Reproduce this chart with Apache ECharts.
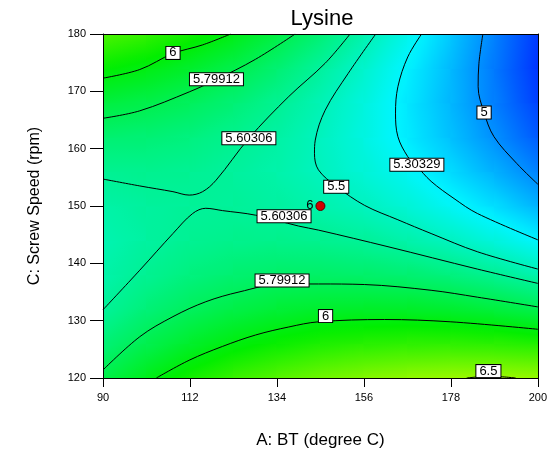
<!DOCTYPE html>
<html>
<head>
<meta charset="utf-8">
<title>Lysine</title>
<script src="https://cdn.jsdelivr.net/npm/echarts@6/dist/echarts.min.js"></script>
<style>
  html, body { margin: 0; padding: 0; background: #fff; }
  #chart { width: 550px; height: 460px; }
</style>
</head>
<body>
<div id="chart"></div>
<script>
// response surface (A = BT, C = screw speed)
const aGrid = [90, 101, 112, 123, 134, 145, 156, 167, 178, 189, 200]
const cGrid = [120, 126, 132, 138, 144, 150, 156, 162, 168, 174, 180]
// one row per cGrid value, one column per aGrid value
const lysineGrid = [
  [5.83, 5.97, 6.10, 6.21, 6.30, 6.37, 6.43, 6.47, 6.50, 6.50, 6.49],
  [5.70, 5.82, 5.92, 6.01, 6.07, 6.13, 6.16, 6.18, 6.18, 6.17, 6.14],
  [5.60, 5.70, 5.78, 5.84, 5.89, 5.92, 5.93, 5.93, 5.91, 5.87, 5.82],
  [5.55, 5.62, 5.68, 5.72, 5.75, 5.75, 5.74, 5.72, 5.68, 5.62, 5.54],
  [5.53, 5.58, 5.62, 5.64, 5.64, 5.63, 5.60, 5.55, 5.48, 5.40, 5.30],
  [5.56, 5.59, 5.60, 5.60, 5.58, 5.54, 5.49, 5.42, 5.33, 5.23, 5.10],
  [5.62, 5.63, 5.62, 5.59, 5.55, 5.49, 5.42, 5.33, 5.22, 5.09, 4.95],
  [5.72, 5.71, 5.68, 5.63, 5.57, 5.49, 5.39, 5.27, 5.14, 4.99, 4.83],
  [5.87, 5.83, 5.78, 5.71, 5.62, 5.52, 5.40, 5.26, 5.11, 4.94, 4.75],
  [6.05, 6.00, 5.92, 5.83, 5.72, 5.59, 5.45, 5.29, 5.12, 4.92, 4.71],
  [6.28, 6.20, 6.10, 5.99, 5.85, 5.71, 5.54, 5.36, 5.16, 4.95, 4.72]
]

// contour lines, points [A, C]
const contour6Top = [[90, 172.3], [99.3, 173.8], [107.7, 176.6], [115.2, 178.1], [122.3, 180]]
const contour580Top = [[90, 165.3], [99.3, 166.6], [111.8, 169.9], [118.5, 172.0], [128.6, 175.6], [138.6, 180]]
const contour560Top = [[90, 154.7], [99.3, 153.5], [107.7, 152.5], [111.8, 151.9], [115.2, 152.5], [118.6, 154.5],
  [126.9, 161.8], [137, 169.1], [146.2, 174.9], [152.5, 180]]
const contour55 = [[159, 180], [152, 173.1], [146.2, 166.7], [143.7, 161.5], [143.5, 159.2], [144.5, 156.3],
  [149.1, 153.4], [156.2, 150.1], [164.6, 147.6], [173, 145.2], [184.8, 142], [200, 139]]
const contour530 = [[170.6, 180], [167.1, 176], [164.6, 170.8], [164, 166.2], [164.6, 162.1], [167.1, 158.6],
  [169.2, 157.1], [173, 154.3], [178.8, 151.3], [184.7, 148.7], [200, 144.1]]
const contour5 = [[186.1, 180], [185.1, 174.9], [184.9, 170.8], [186.4, 166.3], [188.9, 162.1], [194.7, 157.4], [200, 153.8]]
const contour560Bottom = [[90, 131.9], [99.3, 138.8], [107.7, 145.2], [112.7, 148.7], [116, 149.6], [120.2, 149.2],
  [128.6, 148.4], [139.5, 146.5], [144.5, 145.8], [162.1, 142.9], [184.7, 139], [200, 136.5]]
const contour580Bottom = [[90, 121.4], [99.3, 127.2], [107.7, 130.7], [116, 133.3], [124.4, 135], [135.3, 136.4],
  [144.5, 136.4], [156.2, 136.3], [173, 135.3], [184.7, 134.1], [200, 132.4]]
const contour6Bottom = [[103.5, 120], [111.8, 123.1], [120.2, 125.5], [128.6, 127.5], [137, 128.9], [144.5, 129.8],
  [161.2, 130.2], [178, 129.8], [200, 128.5]]
const contour65 = [[182, 120], [188, 120.3], [194.4, 120]]

// contour label texts and where they sit
const labelTexts = ['6', '5.79912', '5.60306', '5.5', '5.30329', '5', '5.60306', '5.79912', '6', '6.5']
const labelPoints = [[107.7, 176.7], [118.7, 172.1], [126.9, 161.8], [149.0, 153.35], [169.4, 157.2],
  [186.4, 166.3], [135.8, 148.2], [135.3, 137.0], [146.3, 130.8], [187.5, 121.2]]

// centre point of the design, 6 replicates
const designPoint = [145, 150]
const designCount = '6'

const xTicks = [90, 112, 134, 156, 178, 200]

const fontFamily = 'Liberation Sans, Arial, sans-serif'

// Design-Expert like ramp: blue -> cyan -> green -> yellow
const rampValues = [4.55, 5.3, 6.05, 6.8]
const rampColors = [[0, 0, 255], [0, 245, 255], [0, 238, 0], [255, 255, 0]]

function colorAt(v) {
  if (v <= rampValues[0]) return 'rgb(' + rampColors[0].join(',') + ')'
  for (let k = 1; k < rampValues.length; k++) {
    if (v <= rampValues[k]) {
      const t = (v - rampValues[k - 1]) / (rampValues[k] - rampValues[k - 1])
      const c0 = rampColors[k - 1], c1 = rampColors[k]
      const rgb = c0.map((c, n) => Math.round(c + (c1[n] - c) * t))
      return 'rgb(' + rgb.join(',') + ')'
    }
  }
  return 'rgb(' + rampColors[rampColors.length - 1].join(',') + ')'
}

// one cell per grid square: [a0, c0, a1, c1, v00, v10, v01, v11]
const cells = []
for (let j = 0; j < cGrid.length - 1; j++) {
  for (let i = 0; i < aGrid.length - 1; i++) {
    cells.push([aGrid[i], cGrid[j], aGrid[i + 1], cGrid[j + 1],
      lysineGrid[j][i], lysineGrid[j][i + 1], lysineGrid[j + 1][i], lysineGrid[j + 1][i + 1]])
  }
}

function renderCell(params, api) {
  const p0 = api.coord([api.value(0), api.value(1)])
  const p1 = api.coord([api.value(2), api.value(3)])
  const v00 = api.value(4), v10 = api.value(5), v01 = api.value(6), v11 = api.value(7)
  const x = p0[0], y = p1[1]
  const w = p1[0] - p0[0], h = p0[1] - p1[1]
  const cx = x + w / 2, cy = y + h / 2
  const m = (v00 + v10 + v01 + v11) / 4
  const gx = ((v10 - v00) + (v11 - v01)) / 2 / w
  const gy = ((v00 - v01) + (v10 - v11)) / 2 / h
  const g = Math.hypot(gx, gy)
  let fill = colorAt(m)
  if (g > 1e-9) {
    const nx = gx / g, ny = gy / g
    const t = (Math.abs(nx) * w + Math.abs(ny) * h) / 2
    const stops = []
    for (let k = 0; k <= 6; k++) {
      const f = k / 6
      stops.push({ offset: f, color: colorAt(m + g * t * (2 * f - 1)) })
    }
    fill = new echarts.graphic.LinearGradient(cx - nx * t, cy - ny * t, cx + nx * t, cy + ny * t, stops, true)
  }
  return {
    type: 'rect',
    shape: { x: x - 0.5, y: y - 0.5, width: w + 1, height: h + 1 },
    style: { fill: fill },
    silent: true
  }
}

function contourSeries(data) {
  return {
    type: 'line',
    data: data,
    smooth: 0.35,
    symbol: 'none',
    silent: true,
    lineStyle: { color: '#000', width: 1 },
    z: 3
  }
}

const chart = echarts.init(document.getElementById('chart'))

chart.setOption({
  animation: false,
  backgroundColor: '#fff',
  textStyle: { fontFamily: fontFamily },
  title: {
    text: 'Lysine',
    left: 317,
    top: 3,
    textAlign: 'center',
    textStyle: { fontSize: 22, fontWeight: 'normal', color: '#000', fontFamily: fontFamily }
  },
  grid: { left: 103, right: 8, top: 34, bottom: 82 },
  xAxis: [
    {
      type: 'value',
      min: 90,
      max: 200,
      position: 'bottom',
      name: 'A: BT (degree C)',
      nameLocation: 'middle',
      nameGap: 54,
      nameTextStyle: { fontSize: 17, color: '#000', fontFamily: fontFamily },
      axisLine: { show: true, onZero: false, lineStyle: { color: '#000', width: 1 } },
      axisTick: { show: true, length: 9, customValues: xTicks, lineStyle: { color: '#000' } },
      axisLabel: { customValues: xTicks, margin: 14, fontSize: 11, color: '#000', fontFamily: fontFamily },
      splitLine: { show: false },
      z: 10
    },
    {
      type: 'value',
      min: 90,
      max: 200,
      position: 'top',
      axisLine: { show: true, onZero: false, lineStyle: { color: '#000', width: 1 } },
      axisTick: { show: false },
      axisLabel: { show: false },
      splitLine: { show: false },
      z: 10
    }
  ],
  yAxis: [
    {
      type: 'value',
      min: 120,
      max: 180,
      interval: 10,
      position: 'left',
      name: 'C: Screw Speed (rpm)',
      nameLocation: 'middle',
      nameGap: 60,
      nameTextStyle: { fontSize: 16, color: '#000', fontFamily: fontFamily },
      axisLine: { show: true, onZero: false, lineStyle: { color: '#000', width: 1 } },
      axisTick: { show: true, length: 13, lineStyle: { color: '#000' } },
      axisLabel: { margin: 17, fontSize: 11, color: '#000', fontFamily: fontFamily },
      splitLine: { show: false },
      z: 10
    },
    {
      type: 'value',
      min: 120,
      max: 180,
      position: 'right',
      axisLine: { show: true, onZero: false, lineStyle: { color: '#000', width: 1 } },
      axisTick: { show: false },
      axisLabel: { show: false },
      splitLine: { show: false },
      z: 10
    }
  ],
  series: [
    {
      type: 'custom',
      renderItem: renderCell,
      data: cells,
      encode: { x: [0, 2], y: [1, 3] },
      clip: true,
      silent: true,
      z: 1
    },
    contourSeries(contour6Top),
    contourSeries(contour580Top),
    contourSeries(contour560Top),
    contourSeries(contour55),
    contourSeries(contour530),
    contourSeries(contour5),
    contourSeries(contour560Bottom),
    contourSeries(contour580Bottom),
    contourSeries(contour6Bottom),
    contourSeries(contour65),
    {
      type: 'scatter',
      data: labelPoints.map((p, k) => ({ name: labelTexts[k], value: p })),
      symbolSize: 1,
      itemStyle: { color: '#fff', opacity: 1 },
      silent: true,
      z: 5,
      label: {
        show: true,
        position: 'inside',
        formatter: '{b}',
        color: '#000',
        fontSize: 13,
        fontFamily: fontFamily,
        lineHeight: 11,
        opacity: 1,
        backgroundColor: '#fff',
        borderColor: '#000',
        borderWidth: 1,
        padding: [1, 3, 0, 3]
      }
    },
    {
      type: 'scatter',
      data: [{ name: designCount, value: designPoint }],
      symbolSize: 9,
      itemStyle: { color: '#d00000', borderColor: '#5a0000', borderWidth: 1, opacity: 1 },
      silent: true,
      z: 6,
      label: {
        show: true,
        position: 'left',
        distance: 2,
        formatter: '{b}',
        color: '#000',
        fontSize: 13,
        fontFamily: fontFamily,
        offset: [0, -1]
      }
    }
  ]
})
</script>
</body>
</html>
